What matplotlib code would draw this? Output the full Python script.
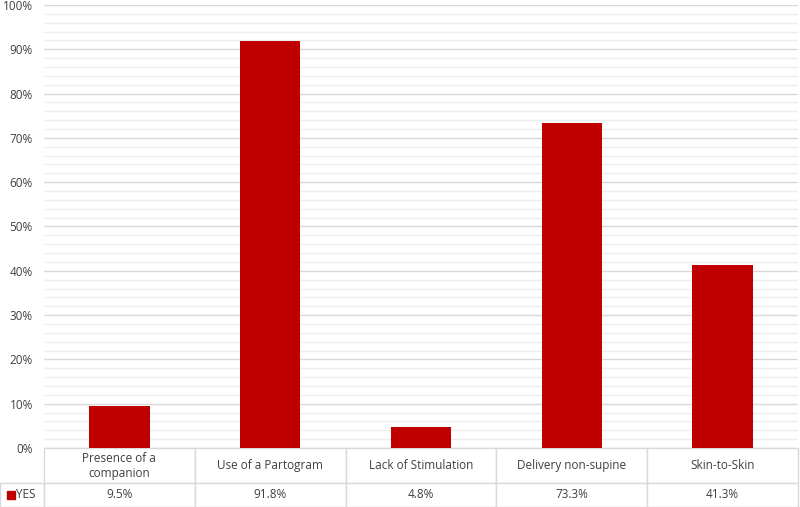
import matplotlib
matplotlib.use("Agg")
import matplotlib.pyplot as plt
from matplotlib.ticker import MultipleLocator, PercentFormatter

categories = ["Presence of a\ncompanion", "Use of a Partogram", "Lack of Stimulation",
              "Delivery non-supine", "Skin-to-Skin"]
values = [9.5, 91.8, 4.8, 73.3, 41.3]
series_name = "YES"
bar_color = "#c00000"
grid_major = "#d9d9d9"
grid_minor = "#eeeeee"
text_color = "#404040"

plt.rcParams['font.family'] = ['Open Sans', 'DejaVu Sans']

fig = plt.figure(figsize=(8, 5.07), dpi=100)
W, H = 800, 507
left, right, top, bottom = 44, 798, 5, 448
ax = fig.add_axes([left / W, 1 - bottom / H, (right - left) / W, (bottom - top) / H])

x = list(range(len(categories)))
ax.bar(x, values, width=0.4, color=bar_color, zorder=3)
ax.set_xlim(-0.5, len(categories) - 0.5)
ax.set_ylim(0, 100)
ax.yaxis.set_major_locator(MultipleLocator(10))
ax.yaxis.set_minor_locator(MultipleLocator(2))
ax.yaxis.set_major_formatter(PercentFormatter(decimals=0))
ax.grid(which='major', axis='y', color=grid_major, lw=1, zorder=0)
ax.grid(which='minor', axis='y', color=grid_minor, lw=1, zorder=0)
for s in ax.spines.values():
    s.set_visible(False)
ax.tick_params(axis='y', which='both', length=0, labelsize=8.5, labelcolor=text_color, pad=8)
ax.tick_params(axis='x', which='both', bottom=False, labelbottom=False)

# data table
cell_text = [[""] + categories,
             ["     " + series_name] + [f"{v:.1f}%" for v in values]]
ax_w = right - left
tb_h = H - bottom
table = ax.table(cellText=cell_text, cellLoc='center',
                 bbox=[-(left) / ax_w, -tb_h / (bottom - top), (right) / ax_w, tb_h / (bottom - top)])
table.auto_set_font_size(False)
col_w = [left] + [(right - left) / len(categories)] * len(categories)
row_h = [35, 24]
for (r, c), cell in table.get_celld().items():
    cell.set_width(col_w[c])
    cell.set_height(row_h[r])
    cell.set_edgecolor(grid_major)
    cell.set_linewidth(1)
    cell.get_text().set_fontsize(8.5)
    cell.get_text().set_color(text_color)
table[0, 0].visible_edges = ''
table[1, 0].get_text().set_ha('left')
table[1, 0]._loc = 'left'
table[1, 0].PAD = 0.02

# legend key square in table
fig.patches.append(plt.Rectangle((7 / W, 1 - 499 / H), 8 / W, 8 / H,
                                 transform=fig.transFigure, color=bar_color, zorder=5))

fig.savefig("out.png", dpi=100)
